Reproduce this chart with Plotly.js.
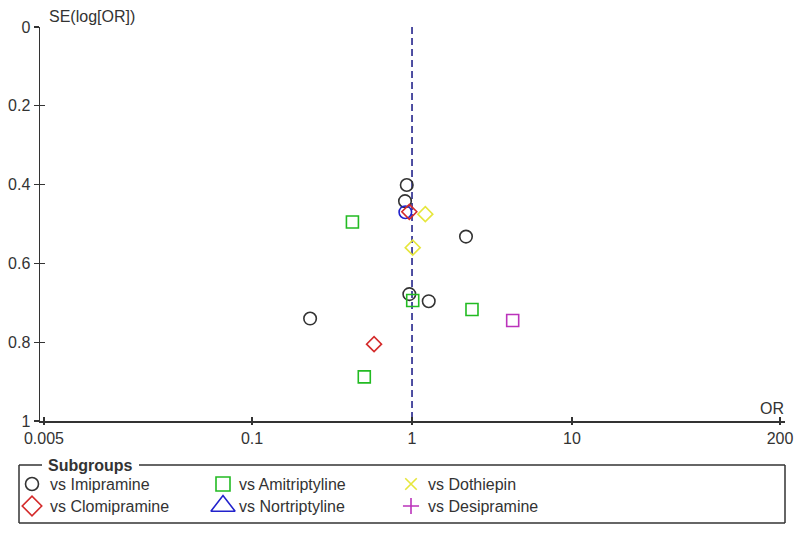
<!DOCTYPE html>
<html><head><meta charset="utf-8">
<script src="https://cdn.plot.ly/plotly-3.0.1.min.js"></script>
<style>html,body{margin:0;padding:0;background:#fff;}#chart{width:800px;height:535px;}</style>
</head><body><div id="chart"></div>
<script>
// ---- data ----
const imipramineOR = [0.927, 0.904, 2.175, 0.962, 1.272, 0.2305];
const imipramineSE = [0.401, 0.442, 0.532, 0.678, 0.696, 0.740];
const amitriptylineOR = [0.424, 1.01, 2.371, 0.503];
const amitriptylineSE = [0.495, 0.694, 0.717, 0.888];
const nortriptylineOR = [0.908];
const nortriptylineSE = [0.470];
const clomipramineOR = [0.962, 0.579];
const clomipramineSE = [0.469, 0.805];
const dothiepinOR = [1.211, 1.01];
const dothiepinSE = [0.475, 0.560];
const desipramineOR = [4.26];
const desipramineSE = [0.745];
const pooledOR = 1;
const xTickVals = [0.005, 0.1, 1, 10, 200];
const xTickText = ['0.005', '0.1', '1', '10', '200'];
const yTickVals = [0, 0.2, 0.4, 0.6, 0.8, 1];
const yTickText = ['0', '0.2', '0.4', '0.6', '0.8', '1'];
const legendNames = ['vs Imipramine', 'vs Amitriptyline', 'vs Dothiepin', 'vs Clomipramine', 'vs Nortriptyline', 'vs Desipramine'];

// ---- styles ----
const C = {imi:'#333333', ami:'#22bb22', nor:'#2222cc', clo:'#d42a2a', dot:'#e6e63c', des:'#bb33bb', ref:'#24248c'};
const W = 800, H = 535;
const FONT = 'Liberation Sans, Arial, sans-serif';
const px = v => v / W, py = v => 1 - v / H;

function pts(x, y, sym, size, color, name) {
  return {type:'scatter', mode:'markers', x:x, y:y, name:name, hoverinfo:'x+y',
    marker:{symbol:sym, size:size, color:color, line:{color:color, width:1.6}}, xaxis:'x', yaxis:'y'};
}
const traces = [
  {type:'scatter', mode:'lines', x:[pooledOR, pooledOR], y:[0, 1], hoverinfo:'skip',
   line:{color:C.ref, width:1.6, dash:'7px,4px'}},
  pts(imipramineOR, imipramineSE, 'circle-open', 12.5, C.imi, legendNames[0]),
  pts(amitriptylineOR, amitriptylineSE, 'square-open', 12, C.ami, legendNames[1]),
  pts(nortriptylineOR, nortriptylineSE, 'circle-open', 12.5, C.nor, legendNames[4]),
  pts(clomipramineOR, clomipramineSE, 'diamond-open', 11.5, C.clo, legendNames[3]),
  pts(dothiepinOR, dothiepinSE, 'diamond-open', 11.5, C.dot, legendNames[2]),
  pts(desipramineOR, desipramineSE, 'square-open', 12, C.des, legendNames[5])
];

// custom legend, drawn on a pixel-space helper axis
const legCols = [32, 223, 411];
const legTextX = [48, 237, 426];
const legRows = [484, 506];
const legSyms = ['circle-open', 'square-open', 'x-thin-open', 'diamond-open', 'triangle-up-open', 'cross-thin-open'];
const legSizes = [13, 14, 11.5, 15, 21, 11.5];
const legColors = [C.imi, C.ami, C.dot, C.clo, C.nor, C.des];
legendNames.forEach((n, i) => {
  traces.push({type:'scatter', mode:'markers', x:[legCols[i % 3]], y:[legRows[Math.floor(i / 3)]],
    xaxis:'x2', yaxis:'y2', hoverinfo:'skip',
    marker:{symbol:legSyms[i], size:legSizes[i], color:legColors[i], line:{color:legColors[i], width:1.6}}});
});

const txt = {family:FONT, size:16, color:'#333'};
const annotations = [
  {text:'SE(log[OR])', xref:'paper', yref:'paper', x:px(47), y:py(16), xanchor:'left', yanchor:'middle', showarrow:false, font:txt},
  {text:'OR', xref:'paper', yref:'paper', x:px(772), y:py(408), xanchor:'center', yanchor:'middle', showarrow:false, font:txt},
  {text:'<b>Subgroups</b>', xref:'paper', yref:'paper', x:px(46), y:py(465), xanchor:'left', yanchor:'middle', showarrow:false, font:txt}
];
legendNames.forEach((n, i) => {
  annotations.push({text:n, xref:'paper', yref:'paper', x:px(legTextX[i % 3]), y:py(legRows[Math.floor(i / 3)]),
    xanchor:'left', yanchor:'middle', showarrow:false, font:txt});
});

const ln = {color:'#333', width:1.5};
const shapes = [
  {type:'line', xref:'paper', yref:'paper', x0:px(19), x1:px(19), y0:py(465), y1:py(523), line:ln},
  {type:'line', xref:'paper', yref:'paper', x0:px(785), x1:px(785), y0:py(465), y1:py(523), line:ln},
  {type:'line', xref:'paper', yref:'paper', x0:px(19), x1:px(785), y0:py(523), y1:py(523), line:ln},
  {type:'line', xref:'paper', yref:'paper', x0:px(19), x1:px(42), y0:py(465), y1:py(465), line:ln},
  {type:'line', xref:'paper', yref:'paper', x0:px(139), x1:px(785), y0:py(465), y1:py(465), line:ln}
];

const xr = [-2.326, 2.332], yr = [1, 0];
const xdom = [px(40), px(785)], ydom = [py(421), py(27)];
const layout = {
  width:W, height:H, margin:{l:0, r:0, t:0, b:0}, paper_bgcolor:'#fff', plot_bgcolor:'#fff',
  showlegend:false, hovermode:'closest',
  xaxis:{type:'log', range:xr, domain:xdom, anchor:'y',
    tickvals:xTickVals, ticktext:xTickText, ticks:'outside', ticklen:2, tickwidth:1.3, tickcolor:'#333',
    showline:true, linecolor:'#333', linewidth:1.5, showgrid:false, zeroline:false, tickfont:txt},
  yaxis:{range:yr, domain:ydom, anchor:'x',
    tickvals:yTickVals, ticktext:yTickText, ticks:'outside', ticklen:5, tickwidth:1.3, tickcolor:'#333',
    showline:true, linecolor:'#333', linewidth:1.5, showgrid:false, zeroline:false, tickfont:txt},
  xaxis3:{type:'log', range:xr, domain:xdom, anchor:'y', overlaying:'x',
    tickvals:xTickVals, showticklabels:false, ticks:'inside', ticklen:4, tickwidth:1.3, tickcolor:'#333',
    showline:false, showgrid:false, zeroline:false},
  yaxis3:{range:yr, domain:ydom, anchor:'x', overlaying:'y',
    tickvals:yTickVals, showticklabels:false, ticks:'inside', ticklen:5, tickwidth:1.3, tickcolor:'#333',
    showline:false, showgrid:false, zeroline:false},
  xaxis2:{range:[0, W], domain:[0, 1], anchor:'y2', visible:false, fixedrange:true},
  yaxis2:{range:[H, 430], domain:[0, py(430)], anchor:'x2', visible:false, fixedrange:true},
  annotations:annotations, shapes:shapes
};
traces.push({type:'scatter', mode:'markers', x:[pooledOR], y:[0], xaxis:'x3', yaxis:'y3', hoverinfo:'skip', marker:{opacity:0}});
Plotly.newPlot('chart', traces, layout, {displayModeBar:false, staticPlot:true});
</script></body></html>
